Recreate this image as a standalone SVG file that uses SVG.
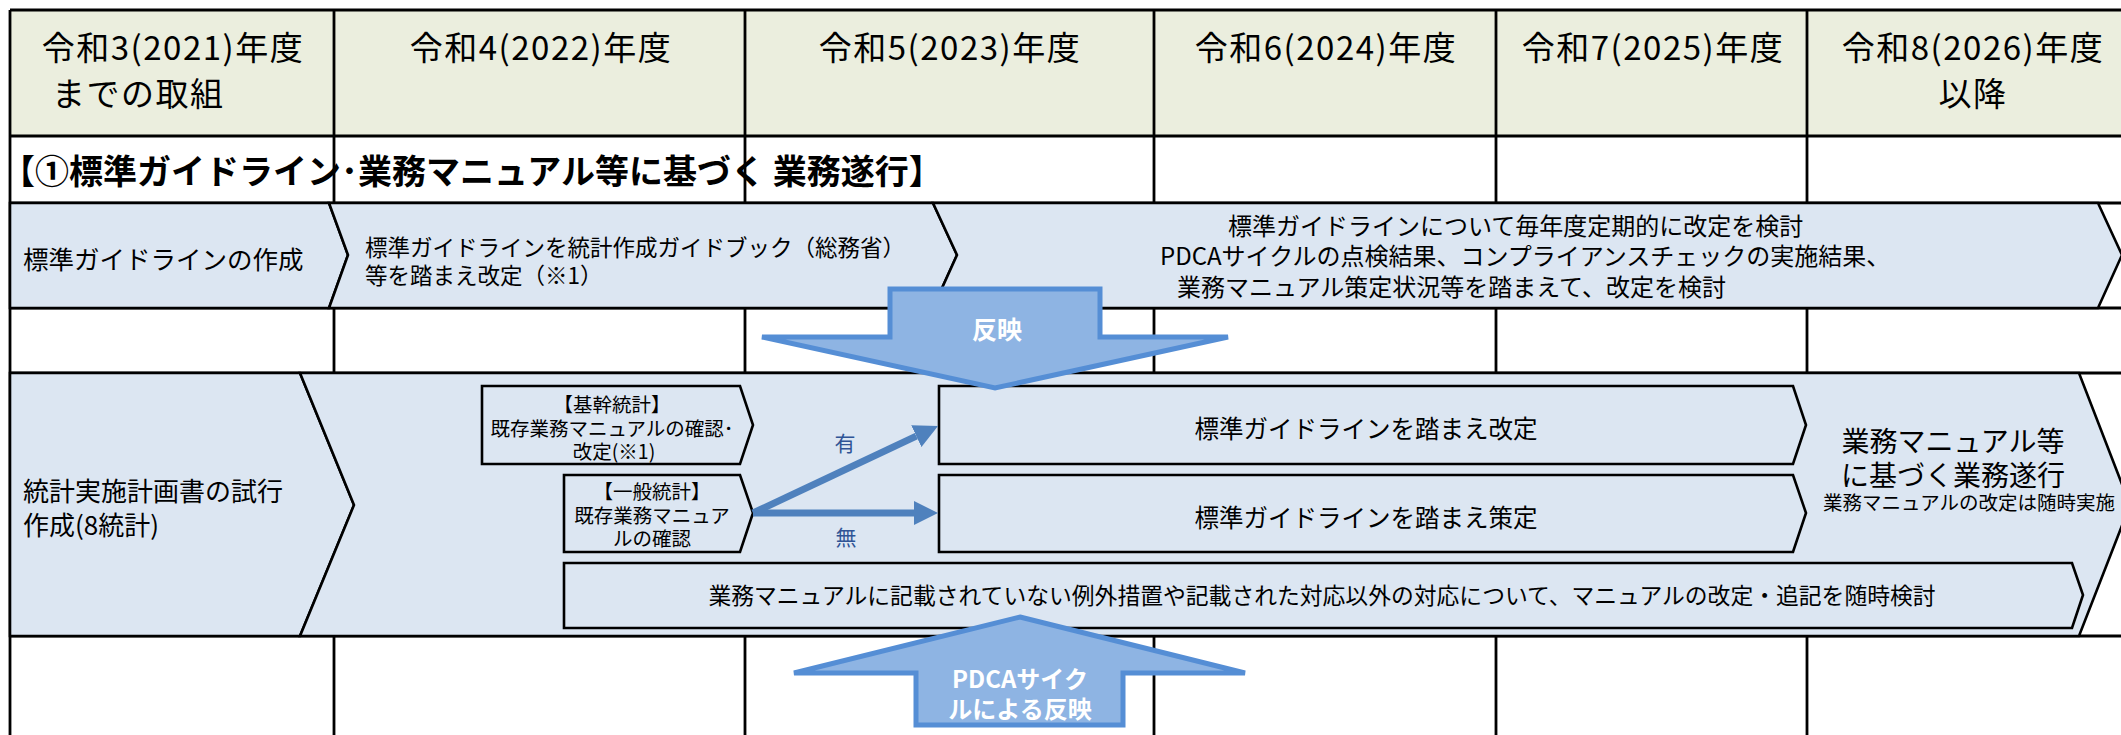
<svg xmlns="http://www.w3.org/2000/svg" width="2121" height="735" viewBox="0 0 2121 735">
<defs>
<style>
text{font-family:"Noto Sans CJK JP","Noto Sans",sans-serif;fill:#000}
.c{text-anchor:middle;dominant-baseline:central}
.s{text-anchor:start;dominant-baseline:central}
.hd{font-size:33px;letter-spacing:1.5px}
.grid{stroke:#000;stroke-width:2.8;fill:none}
.shape{fill:#DCE6F2;stroke:#000;stroke-width:2.6}
.bigarrow{fill:#8EB4E3;stroke:#558ED5;stroke-width:5}
.wt{fill:#fff;font-weight:bold}
.flow{stroke:#4F81BD;stroke-width:7;fill:none}
.lbl{fill:#2F5496;font-size:21px}
</style>
<marker id="ah" markerUnits="userSpaceOnUse" markerWidth="24" markerHeight="24" refX="0" refY="12" orient="auto"><path d="M0,0 L24,12 L0,24 Z" fill="#4F81BD"/></marker>
</defs>
<rect width="2121" height="735" fill="#fff"/>
<g id="table">
<rect x="10" y="10" width="2115" height="126" fill="#EBEEDE"/>
<path class="grid" d="M10,10H2121M10,136H2121M10,203H2121M10,308H2121M10,373H2121M10,636H2121M10,10V735M334,10V735M745,10V735M1154,10V735M1496,10V735M1807,10V735"/>
</g>
<g id="headers">
<text class="hd c" x="173" y="46">令和3(2021)年度</text>
<text class="hd s" x="52" y="92">までの取組</text>
<text class="hd c" x="541" y="46">令和4(2022)年度</text>
<text class="hd c" x="950" y="46">令和5(2023)年度</text>
<text class="hd c" x="1326" y="46">令和6(2024)年度</text>
<text class="hd c" x="1653" y="46">令和7(2025)年度</text>
<text class="hd c" x="1973" y="46">令和8(2026)年度</text>
<text class="hd c" x="1973" y="92">以降</text>
</g>
<g id="title">
<text class="s" x="1" y="169" style="font-size:34px;font-weight:bold">【①標準ガイドライン･業務マニュアル等に基づく 業務遂行】</text>
</g>
<g id="guideline-create">
<polygon class="shape" points="10,203 329,203 348,255 329,308 10,308"/>
<text class="s" x="23" y="257" style="font-size:25.5px">標準ガイドラインの作成</text>
</g>
<g id="guideline-revise">
<polygon class="shape" points="329,203 933,203 957,255 933,308 329,308 348,255"/>
<text class="s" x="365" y="246" style="font-size:22.5px">標準ガイドラインを統計作成ガイドブック（総務省）</text>
<text class="s" x="365" y="274" style="font-size:22.5px">等を踏まえ改定（※1）</text>
</g>
<g id="guideline-annual">
<polygon class="shape" points="933,203 2098,203 2122,255 2098,308 933,308 957,255"/>
<text class="s" x="1228" y="224" style="font-size:24px">標準ガイドラインについて毎年度定期的に改定を検討</text>
<text class="s" x="1160" y="254" style="font-size:24px">PDCAサイクルの点検結果、コンプライアンスチェックの実施結果、</text>
<text class="s" x="1177" y="285" style="font-size:24px">業務マニュアル策定状況等を踏まえて、改定を検討</text>
</g>
<g id="plan-trial">
<polygon class="shape" points="10,373 300,373 354,505 300,636 10,636"/>
<text class="s" x="23" y="489" style="font-size:26px">統計実施計画書の試行</text>
<text class="s" x="23" y="523" style="font-size:26px">作成(8統計)</text>
</g>
<g id="manual-operation">
<polygon class="shape" points="300,373 2079,373 2130,505 2079,636 300,636 354,505"/>
<text class="c" x="1953" y="440" style="font-size:28px">業務マニュアル等</text>
<text class="c" x="1953" y="474" style="font-size:28px">に基づく業務遂行</text>
<text class="c" x="1969" y="501" style="font-size:19.5px">業務マニュアルの改定は随時実施</text>
</g>
<g id="core-stats">
<polygon class="shape" points="482,386 740,386 753,425 740,464 482,464"/>
<text class="c" x="612" y="403" style="font-size:19.5px">【基幹統計】</text>
<text class="c" x="612" y="427" style="font-size:19.5px">既存業務マニュアルの確認･</text>
<text class="c" x="614" y="450" style="font-size:19.5px">改定(※1)</text>
</g>
<g id="general-stats">
<polygon class="shape" points="564,475 740,475 753,513 740,552 564,552"/>
<text class="c" x="652" y="490" style="font-size:19.5px">【一般統計】</text>
<text class="c" x="652" y="514" style="font-size:19.5px">既存業務マニュア</text>
<text class="c" x="652" y="537" style="font-size:19.5px">ルの確認</text>
</g>
<g id="revise-box">
<polygon class="shape" points="939,386 1793,386 1806,425 1793,464 939,464"/>
<text class="c" x="1366" y="427" style="font-size:24.5px">標準ガイドラインを踏まえ改定</text>
</g>
<g id="create-box">
<polygon class="shape" points="939,475 1793,475 1806,513 1793,552 939,552"/>
<text class="c" x="1366" y="516" style="font-size:24.5px">標準ガイドラインを踏まえ策定</text>
</g>
<g id="exception-box">
<polygon class="shape" points="564,563 2072,563 2083,595 2072,628 564,628"/>
<text class="c" x="1322" y="594" style="font-size:22.8px">業務マニュアルに記載されていない例外措置や記載された対応以外の対応について、マニュアルの改定・追記を随時検討</text>
</g>
<g id="connectors">
<line class="flow" x1="753" y1="513" x2="916.3" y2="436.2" marker-end="url(#ah)"/>
<line class="flow" x1="753" y1="513" x2="914" y2="513" marker-end="url(#ah)"/>
<text class="lbl c" x="845" y="442">有</text>
<text class="lbl c" x="846" y="536">無</text>
</g>
<g id="reflect-arrow">
<polygon class="bigarrow" points="890,289 1100,289 1100,337 1228,337 995,388 762,337 890,337"/>
<text class="c wt" x="997" y="328" style="font-size:25px">反映</text>
</g>
<g id="pdca-arrow">
<polygon class="bigarrow" points="1020,617 1245,673 1123,673 1123,725 916,725 916,673 794,673"/>
<text class="c wt" x="1020" y="677" style="font-size:24px">PDCAサイク</text>
<text class="c wt" x="1020" y="707" style="font-size:24px">ルによる反映</text>
</g>
</svg>
